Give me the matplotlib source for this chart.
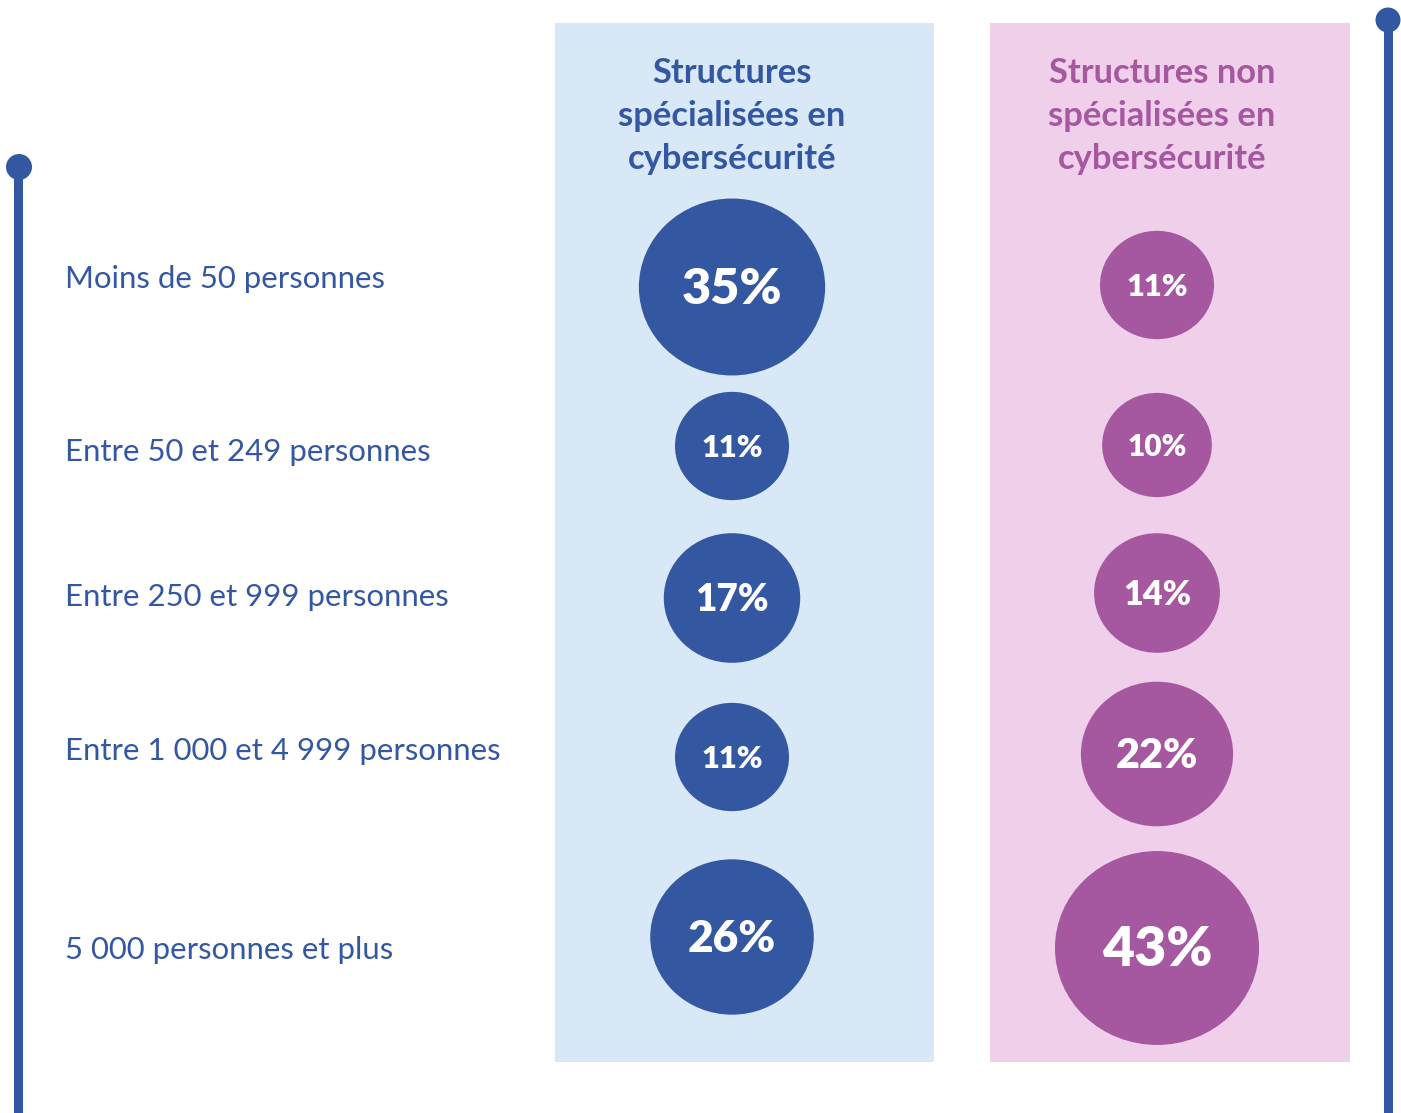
import matplotlib.pyplot as plt
from matplotlib.patches import Ellipse, Rectangle
import numpy as np

# --- données ---
categories = [
    "Moins de 50 personnes",
    "Entre 50 et 249 personnes",
    "Entre 250 et 999 personnes",
    "Entre 1 000 et 4 999 personnes",
    "5 000 personnes et plus",
]
specialisees = [35, 11, 17, 11, 26]
non_specialisees = [11, 10, 14, 22, 43]
titre_spe = "Structures\nspécialisées en\ncybersécurité"
titre_non = "Structures non\nspécialisées en\ncybersécurité"

# --- mise en page (pixels) ---
W, H = 1401, 1113
bleu = "#3457a2"
violet = "#a557a0"
fond_bleu = "#d9e8f7"
fond_rose = "#f0cfeb"

y_labels = [279, 452, 597, 751, 950]
y_spe = [287, 446, 598, 757, 937]
y_non = [285, 445, 593, 754, 948]
x_spe, x_non = 732, 1157


def diametre(v):
    # taille du disque en fonction de la valeur
    return 21.8 + 27.8 * np.sqrt(v)


plt.rcParams['font.family'] = ['Lato', 'DejaVu Sans']
fig = plt.figure(figsize=(W / 100, H / 100), dpi=100)
ax = fig.add_axes([0, 0, 1, 1])
ax.set_xlim(0, W)
ax.set_ylim(H, 0)
ax.axis('off')

# panneaux de fond
ax.add_patch(Rectangle((555, 23), 379, 1039, color=fond_bleu, lw=0))
ax.add_patch(Rectangle((990, 23), 360, 1039, color=fond_rose, lw=0))

# lignes verticales avec pastille
ax.plot([18, 18], [167, H + 5], color=bleu, lw=6.5, solid_capstyle='butt')
ax.add_patch(Ellipse((19, 167), 26, 26, color=bleu, lw=0))
ax.plot([1388, 1388], [20, H + 5], color=bleu, lw=6.5, solid_capstyle='butt')
ax.add_patch(Ellipse((1388, 20), 25, 25, color=bleu, lw=0))

# titres de colonnes
ax.text(x_spe, 116, titre_spe, ha='center', va='center', color=bleu,
        fontsize=24.8, fontweight='bold', linespacing=1.42)
ax.text(1162, 116, titre_non, ha='center', va='center', color=violet,
        fontsize=24.8, fontweight='bold', linespacing=1.42)

# libellés des lignes
for lab, y in zip(categories, y_labels):
    ax.text(65, y, lab, ha='left', va='center', color=bleu, fontsize=22.4)

# disques
for vals, ys, x, col in [(specialisees, y_spe, x_spe, bleu),
                         (non_specialisees, y_non, x_non, violet)]:
    for v, y in zip(vals, ys):
        d = diametre(v)
        ax.add_patch(Ellipse((x, y), d, d * 0.95, color=col, lw=0))
        ax.text(x, y + 2, f"{v}%", ha='center', va='center', color='white',
                fontsize=d * 0.195, fontweight='heavy')

fig.savefig("out.png", dpi=100)
